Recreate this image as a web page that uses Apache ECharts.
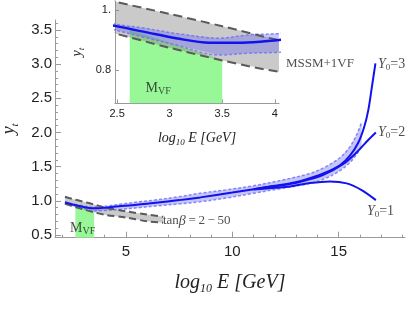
<!DOCTYPE html>
<html><head><meta charset="utf-8">
<script src="https://cdn.jsdelivr.net/npm/echarts@6/dist/echarts.min.js"></script>
<style>html,body{margin:0;padding:0;background:#fff}#c{width:415px;height:312px}</style>
</head><body><div id="c"></div>
<script>
// ---------- data ----------
// common trunk of the y_t running (all Y0 coincide here)
const trunkX = [2.13, 2.48, 2.75, 3.06, 3.38, 3.69, 4.04, 4.8, 5.6, 6.4, 7.5, 8.5, 10.0, 11.0];
const trunkY = [0.975, 0.947, 0.928, 0.906, 0.891, 0.891, 0.900, 0.923, 0.945, 0.972, 1.01, 1.05, 1.12, 1.17];
// tails for the three boundary values
const y3X = [11.0, 12.0, 12.7, 13.34, 14.28, 15.06, 15.53, 15.92, 16.19, 16.39, 16.56, 16.73];
const y3Y = [1.17, 1.22, 1.255, 1.30, 1.40, 1.52, 1.66, 1.85, 2.07, 2.32, 2.66, 3.01];
const y2X = [11.0, 12.0, 12.7, 13.34, 14.28, 15.22, 15.85, 16.39, 16.75];
const y2Y = [1.17, 1.215, 1.245, 1.29, 1.38, 1.54, 1.71, 1.89, 2.0];
const y1X = [11.0, 12.0, 12.71, 13.65, 14.59, 15.38, 16.08, 16.75];
const y1Y = [1.165, 1.19, 1.21, 1.26, 1.283, 1.255, 1.157, 1.01];
// uncertainty band (blue)
const bandX  = [2.13, 2.48, 2.75, 3.06, 3.47, 3.75, 4.04, 4.8, 5.6, 6.36, 7.5, 8.48, 9.7, 11.0, 12.3, 13.65, 14.4, 15.06, 15.53, 15.85, 16.08];
const bandLo = [0.962, 0.933, 0.91, 0.883, 0.850, 0.856, 0.859, 0.875, 0.90, 0.923, 0.955, 0.986, 1.04, 1.11, 1.18, 1.255, 1.33, 1.44, 1.56, 1.68, 1.80];
const bandHi = [0.985, 0.953, 0.94, 0.922, 0.906, 0.917, 0.922, 0.953, 0.985, 1.011, 1.06, 1.11, 1.16, 1.22, 1.30, 1.40, 1.50, 1.63, 1.79, 1.97, 2.15];
// MSSM tan(beta)=2-50 band (gray)
const mssmX  = [2.13, 2.48, 3.0, 3.5, 4.04, 5.0, 6.0, 6.75];
const mssmHi = [1.06, 1.028, 0.987, 0.946, 0.90, 0.845, 0.80, 0.765];
const mssmLo = [0.955, 0.922, 0.874, 0.832, 0.794, 0.755, 0.70, 0.68];
// M_VF region (green)
const greenX = [2.62, 3.5];
const greenTop = [0.935, 0.833];
// ticks
const mainXMajor = [5, 10, 15];
const mainXMinor = [2, 3, 4, 6, 7, 8, 9, 11, 12, 13, 14, 16, 17, 18];
const mainYMajor = [0.5, 1.0, 1.5, 2.0, 2.5, 3.0, 3.5];
const mainYMinor = [0.6,0.7,0.8,0.9,1.1,1.2,1.3,1.4,1.6,1.7,1.8,1.9,2.1,2.2,2.3,2.4,2.6,2.7,2.8,2.9,3.1,3.2,3.3,3.4,3.6];
const insetXTicks = [2.5, 3, 3.5, 4];
const insetXLabels = ['2.5', '3', '3.5', '4'];
const insetYTicks = [0.8, 1.0];
const insetYLabels = ['0.8', '1.'];

// ---------- styling ----------
const SERIF = '"Liberation Serif","DejaVu Serif",serif';
const SANS = '"Liberation Sans","DejaVu Sans",sans-serif';
const AX = '#9a9a9a';
const BLUE = '#1212ee';
const zip = (xs, ys) => xs.map((x, i) => [x, ys[i]]);

function richIt(size) {
  return {
    i: {fontFamily: SERIF, fontStyle: 'italic', fontSize: size, lineHeight: size + 4, color: '#222'},
    s: {fontFamily: SERIF, fontStyle: 'italic', fontSize: Math.round(size * 0.62), verticalAlign: 'bottom', lineHeight: Math.round(size * 0.62) + 2, color: '#222'}
  };
}
const annRich = {
  i: {fontFamily: SERIF, fontStyle: 'italic', fontSize: 14, lineHeight: 16, color: '#222'},
  r: {fontFamily: SERIF, fontSize: 14, lineHeight: 16, color: '#222'},
  rs: {fontFamily: SERIF, fontSize: 13, lineHeight: 16, color: '#222'},
  s: {fontFamily: SERIF, fontSize: 9, lineHeight: 10, verticalAlign: 'bottom', color: '#222'},
  sv: {fontFamily: SERIF, fontSize: 10, lineHeight: 11, verticalAlign: 'bottom', color: '#222'}
};

function band(xi, yi, xs, lo, hi, fill, z) {
  return {
    type: 'custom', xAxisIndex: xi, yAxisIndex: yi, clip: true, z: z, silent: true,
    data: [[xs[0], lo[0]]],
    renderItem: function (params, api) {
      const pts = xs.map((x, i) => api.coord([x, hi[i]]));
      for (let i = xs.length - 1; i >= 0; i--) pts.push(api.coord([xs[i], lo[i]]));
      return {type: 'polygon', shape: {points: pts}, style: {fill: fill}};
    }
  };
}
function line(xi, yi, xs, ys, color, width, type, z, smooth) {
  return {
    type: 'line', xAxisIndex: xi, yAxisIndex: yi, data: zip(xs, ys), symbol: 'none', silent: true,
    smooth: smooth, z: z, clip: true,
    lineStyle: {color: color, width: width, type: type, cap: 'butt'}
  };
}
function green(xi, yi) {
  return {
    type: 'line', xAxisIndex: xi, yAxisIndex: yi, data: zip(greenX, greenTop), symbol: 'none', silent: true, z: 1,
    lineStyle: {width: 0}, areaStyle: {color: '#98f898', opacity: 1, origin: 'start'}
  };
}
function ann(xi, yi, pts) {
  return {
    type: 'scatter', xAxisIndex: xi, yAxisIndex: yi, symbolSize: 1, silent: true, z: 10,
    itemStyle: {color: 'rgba(0,0,0,0)'},
    data: pts.map(p => ({value: [p[0], p[1]], label: {show: true, position: 'inside', formatter: p[2], align: p[3], verticalAlign: 'middle', rich: annRich}}))
  };
}
function group(xi, yi, inset) {
  const lw = inset ? 2.4 : 2;
  const dashG = inset ? [9, 5] : [7, 4];
  const s = [
    green(xi, yi),
    band(xi, yi, mssmX, mssmLo, mssmHi, 'rgba(128,128,128,0.42)', 2),
    band(xi, yi, bandX, bandLo, bandHi, 'rgba(105,105,240,0.38)', 3),
    line(xi, yi, bandX, bandLo, 'rgba(110,110,250,0.8)', 1.5, [3, 2], 4, 0.35),
    line(xi, yi, bandX, bandHi, 'rgba(110,110,250,0.8)', 1.5, [3, 2], 4, 0.35),
    line(xi, yi, mssmX, mssmHi, '#5a5a5a', 2, dashG, 5, 0.3),
    line(xi, yi, mssmX, mssmLo, '#5a5a5a', 2, dashG, 5, 0.3),
    line(xi, yi, trunkX, trunkY, BLUE, lw, 'solid', 6, 0.35)
  ];
  if (!inset) {
    s.push(line(xi, yi, y3X, y3Y, BLUE, lw, 'solid', 6, 0.35));
    s.push(line(xi, yi, y2X, y2Y, BLUE, lw, 'solid', 6, 0.35));
    s.push(line(xi, yi, y1X, y1Y, BLUE, lw, 'solid', 6, 0.35));
  }
  return s;
}

const series = [].concat(group(0, 0, false), group(2, 2, true));
series.push(ann(0, 0, [
  [14.12, 3.01, '{rs|MSSM+1VF}', 'center'],
  [16.85, 3.0, '{i|Y}{s|0}{r|=3}', 'left'],
  [16.85, 2.005, '{i|Y}{s|0}{r|=2}', 'left'],
  [16.33, 0.85, '{i|Y}{s|0}{r|=1}', 'left'],
  [6.74, 0.705, '{rs|tan}{i|β}{rs|\u2009=\u20092\u2009−\u200950}', 'left'],
  [2.37, 0.59, '{r|M}{sv|VF}', 'left']
]));
series.push(ann(2, 2, [
  [2.77, 0.74, '{r|M}{sv|VF}', 'left']
]));

const tickLab = {fontFamily: SANS, color: '#222'};
const option = {
  animation: false,
  backgroundColor: '#fff',
  grid: [
    {left: 55, top: 20, width: 350, height: 217.7, containLabel: false, outerBoundsMode: 'none'},
    {left: 115, top: 1, width: 164, height: 102.3, containLabel: false, outerBoundsMode: 'none'}
  ],
  xAxis: [
    {type: 'value', gridIndex: 0, min: 1.662, max: 18.12, position: 'bottom',
     axisLine: {show: true, onZero: false, lineStyle: {color: AX, width: 1}},
     axisTick: {show: true, inside: true, length: 6, customValues: mainXMajor, lineStyle: {color: AX}},
     axisLabel: {show: true, customValues: mainXMajor, margin: 7, fontSize: 15, ...tickLab, formatter: v => String(v)},
     splitLine: {show: false},
     name: '{i|log}{s|10}{i| E [GeV]}', nameLocation: 'middle', nameGap: 33,
     nameTextStyle: {rich: richIt(20)}},
    {type: 'value', gridIndex: 0, min: 1.662, max: 18.12, position: 'bottom', offset: 0,
     axisLine: {show: false}, axisLabel: {show: false}, splitLine: {show: false},
     axisTick: {show: true, inside: true, length: 3, customValues: mainXMinor, lineStyle: {color: AX}}},
    {type: 'value', gridIndex: 1, min: 2.48, max: 4.04, position: 'bottom',
     axisLine: {show: true, onZero: false, lineStyle: {color: AX, width: 1}},
     axisTick: {show: true, inside: true, length: 4, customValues: insetXTicks, lineStyle: {color: AX}},
     axisLabel: {show: true, customValues: insetXTicks, margin: 5, fontSize: 11, ...tickLab,
       formatter: v => insetXLabels[insetXTicks.indexOf(v)] ?? String(v)},
     splitLine: {show: false},
     name: '{i|log}{s|10}{i| E [GeV]}', nameLocation: 'middle', nameGap: 26,
     nameTextStyle: {rich: richIt(14)}}
  ],
  yAxis: [
    {type: 'value', gridIndex: 0, min: 0.46, max: 3.646, position: 'left',
     axisLine: {show: true, onZero: false, lineStyle: {color: AX, width: 1}},
     axisTick: {show: true, inside: true, length: 6, customValues: mainYMajor, lineStyle: {color: AX}},
     axisLabel: {show: true, customValues: mainYMajor, margin: 3, fontSize: 15, ...tickLab, formatter: v => v.toFixed(1)},
     splitLine: {show: false},
     name: '{i|y}{s|t}', nameLocation: 'middle', nameGap: 33, nameRotate: 90,
     nameTextStyle: {rich: richIt(18)}},
    {type: 'value', gridIndex: 0, min: 0.46, max: 3.646, position: 'left', offset: 0,
     axisLine: {show: false}, axisLabel: {show: false}, splitLine: {show: false},
     axisTick: {show: true, inside: true, length: 3, customValues: mainYMinor, lineStyle: {color: AX}}},
    {type: 'value', gridIndex: 1, min: 0.689, max: 1.03, position: 'left',
     axisLine: {show: true, onZero: false, lineStyle: {color: AX, width: 1}},
     axisTick: {show: true, inside: true, length: 4, customValues: insetYTicks, lineStyle: {color: AX}},
     axisLabel: {show: true, customValues: insetYTicks, margin: 4, fontSize: 11, ...tickLab,
       formatter: v => insetYLabels[insetYTicks.indexOf(v)] ?? String(v)},
     splitLine: {show: false},
     name: '{i|y}{s|t}', nameLocation: 'middle', nameGap: 29, nameRotate: 90,
     nameTextStyle: {rich: richIt(14)}}
  ],
  series: series
};
const chart = echarts.init(document.getElementById('c'));
chart.setOption(option);
</script>
</body></html>
